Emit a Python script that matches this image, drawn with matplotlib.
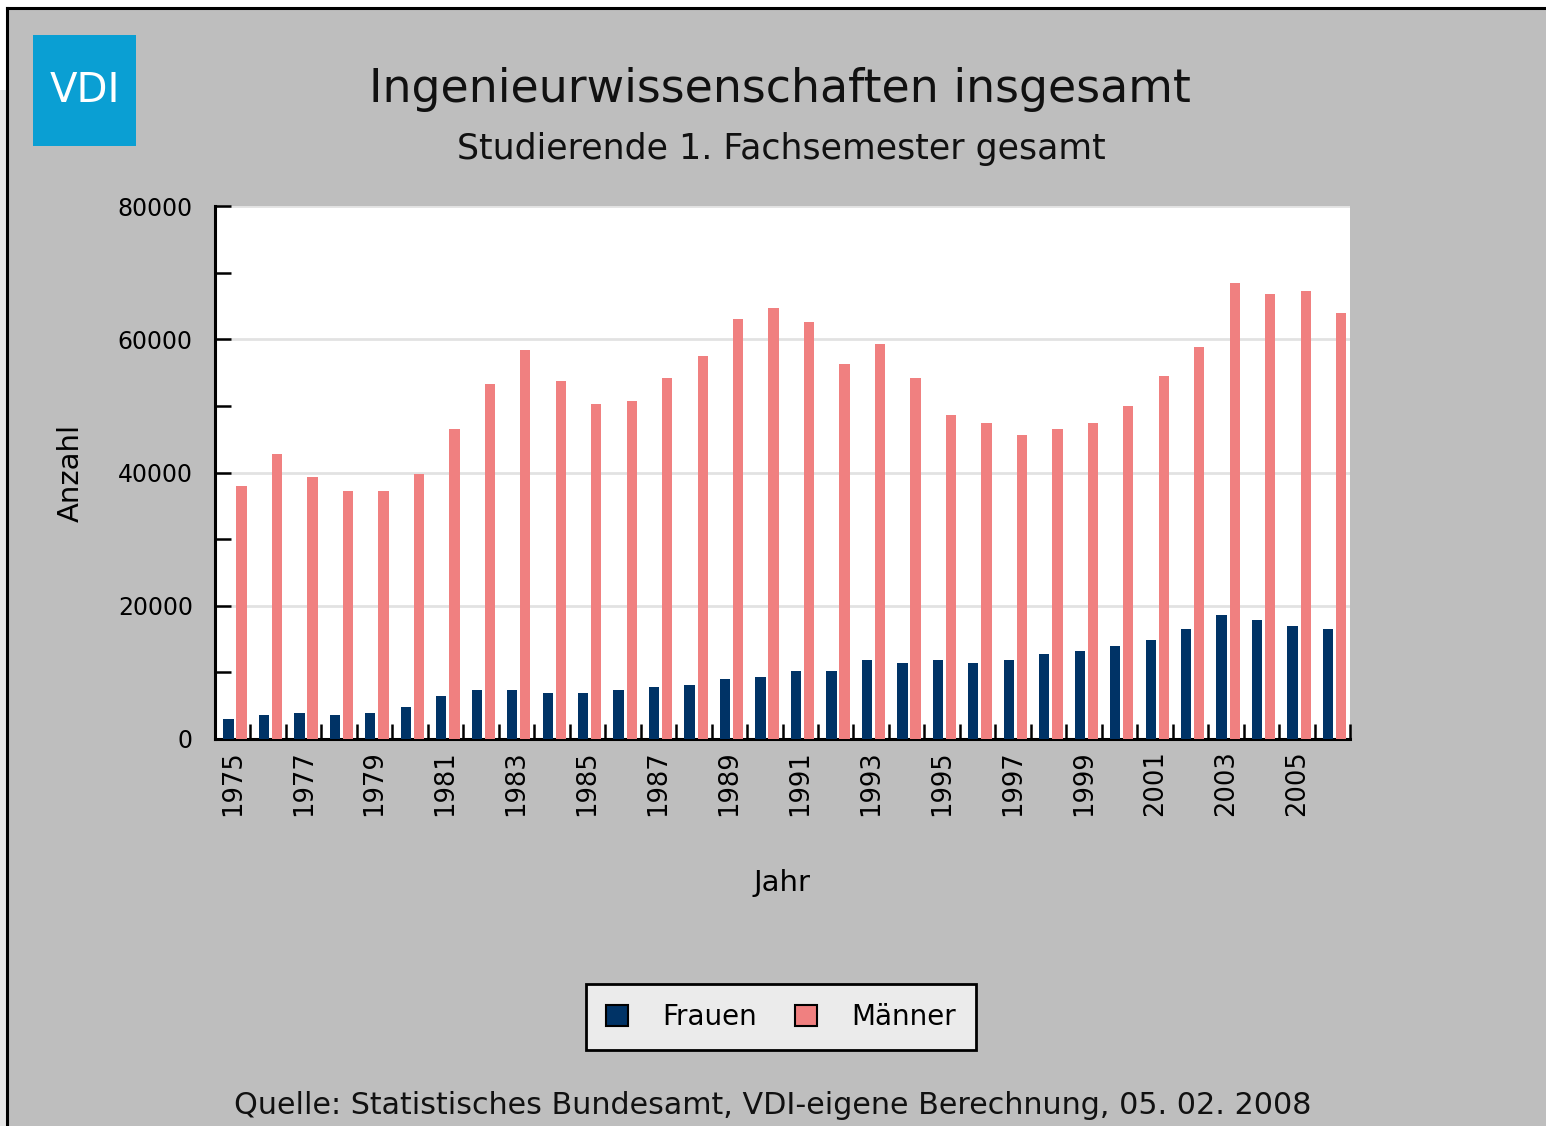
import numpy as np
import matplotlib
matplotlib.use("Agg")
import matplotlib.pyplot as plt
from matplotlib.patches import Rectangle

years = list(range(1975, 2007))
frauen = [3030, 3530, 3930, 3530, 3930, 4780, 6430, 7280, 7280, 6880, 6880,
          7280, 7730, 8130, 8980, 9380, 10230, 10230, 11930, 11480, 11930, 11480,
          11930, 12780, 13180, 14030, 14880, 16580, 18680, 17830, 16980, 16580]
maenner = [38030, 42790, 39380, 37280, 37280, 39790, 46540, 53290, 58390, 53690, 50290,
           50790, 54190, 57540, 63040, 64690, 62640, 56240, 59240, 54190, 48690, 47390,
           45690, 46540, 47390, 49940, 54540, 58790, 68500, 66840, 67250, 63890]
tick_years = [str(y) for y in years]
title = "Ingenieurwissenschaften insgesamt"
subtitle = "Studierende 1. Fachsemester gesamt"
source = "Quelle: Statistisches Bundesamt, VDI-eigene Berechnung, 05. 02. 2008"

NAVY = "#003366"
PINK = "#f08080"
BG = "#bebebe"

W, H = 1546, 1126
fig = plt.figure(figsize=(W / 100, H / 100), dpi=100)
fig.patch.set_facecolor("white")

def fx(px):
    return px / W

def fy(py):
    return 1 - py / H

# left strip light grey and main grey panel with black frame
fig.patches.append(Rectangle((0, 0), fx(8), fy(90), transform=fig.transFigure,
                             facecolor="#e6e6e6", edgecolor="none", zorder=-5))
fig.patches.append(Rectangle((fx(8), 0), 1 - fx(8), fy(8), transform=fig.transFigure,
                             facecolor=BG, edgecolor="none", zorder=-5))
fig.lines.append(plt.Line2D([fx(7.5), fx(7.5)], [0, fy(7.5)], transform=fig.transFigure,
                            color="black", lw=2.2, zorder=-4))
fig.lines.append(plt.Line2D([fx(7.5), 1], [fy(7.5), fy(7.5)], transform=fig.transFigure,
                            color="black", lw=2.2, zorder=-4))

# VDI logo
fig.patches.append(Rectangle((fx(33), fy(146)), fx(136) - fx(33), fy(35) - fy(146),
                             transform=fig.transFigure, facecolor="#0a9fd3",
                             edgecolor="none", zorder=-3))
fig.text(fx(84.5), fy(91), "VDI", color="white", fontsize=29, ha="center", va="center",
         family="DejaVu Sans", zorder=3)

fig.text(fx(780), fy(90), title, fontsize=33, ha="center", va="center", color="#111111")
fig.text(fx(781), fy(149), subtitle, fontsize=25, ha="center", va="center", color="#111111")

ax = fig.add_axes([fx(215), fy(739), fx(1350) - fx(215), fy(206) - fy(739)])
ax.set_zorder(5)
ax.set_facecolor("white")

x = np.arange(len(years))
bw = 0.29
b1 = ax.bar(x - 0.12, frauen, width=bw, color=NAVY, label="Frauen", zorder=3)
b2 = ax.bar(x + 0.25, maenner, width=bw, color=PINK, label="Männer", zorder=3)

ax.set_xlim(-0.5, len(years) - 0.5)
ax.set_ylim(0, 80000)

ax.yaxis.grid(True, color="#e2e2e2", lw=2, zorder=0)
ax.set_axisbelow(True)
ax.set_yticks([0, 20000, 40000, 60000, 80000])
ax.set_yticklabels(["0", "20000", "40000", "60000", "80000"])
ax.set_yticks([10000, 30000, 50000, 70000], minor=True)

ax.set_xticks(x[::2])
ax.set_xticklabels(tick_years[::2], rotation=90)
ax.set_xticks(x + 0.5, minor=True)

for s in ["top", "right"]:
    ax.spines[s].set_visible(False)
for s in ["left", "bottom"]:
    ax.spines[s].set_linewidth(2.2)
    ax.spines[s].set_color("black")

ax.tick_params(axis="y", which="both", direction="in", length=11.5, width=1.8,
               labelsize=17, pad=16)
ax.tick_params(axis="x", which="major", length=0, labelsize=18.5, pad=8)
ax.tick_params(axis="x", which="minor", direction="in", length=10.5, width=1.8)
ax.grid(False, axis="x")

ax.set_xlabel("Jahr", fontsize=21, labelpad=38)
ax.set_ylabel("Anzahl", fontsize=21, labelpad=24)

leg = fig.legend(handles=[b1, b2], labels=["Frauen", "Männer"], loc="center",
                 bbox_to_anchor=(fx(781), fy(1017)), ncol=2, fontsize=20,
                 frameon=True, fancybox=False, edgecolor="black",
                 facecolor="#ebebeb", framealpha=1, handlelength=0.8,
                 handleheight=0.8, handletextpad=1.25, columnspacing=1.35,
                 borderpad=0.7, borderaxespad=0)
leg.set_zorder(10)
leg.get_frame().set_linewidth(2)
for h in leg.legend_handles:
    h.set_edgecolor("black")
    h.set_linewidth(1.5)

fig.text(fx(773), fy(1106), source, fontsize=21.7, ha="center", va="center", color="#111111")

fig.savefig("out.png", dpi=100, facecolor=fig.get_facecolor())
